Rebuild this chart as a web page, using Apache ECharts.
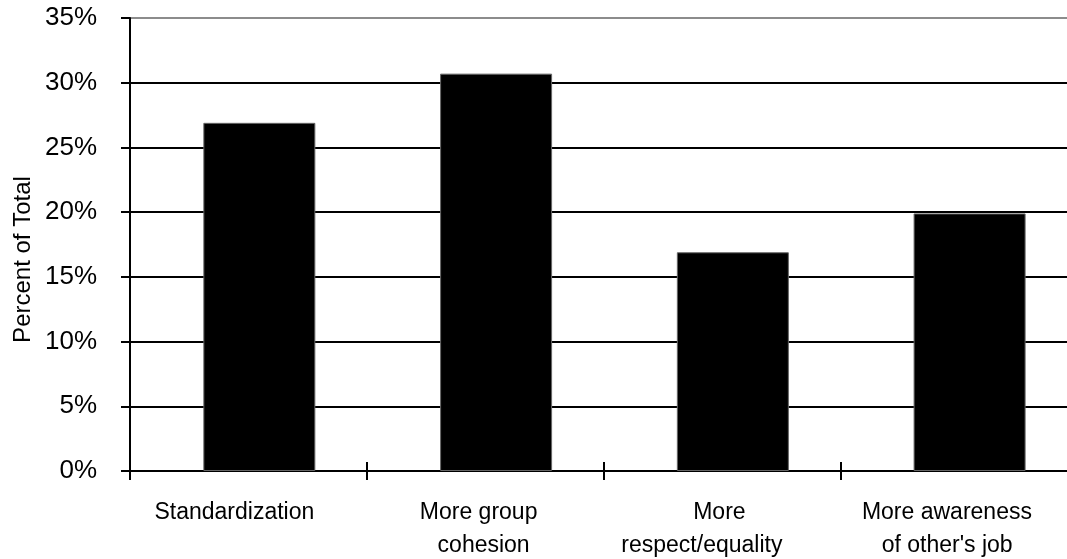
<!DOCTYPE html>
<html>
<head>
<meta charset="utf-8">
<script src="https://cdn.jsdelivr.net/npm/echarts@6/dist/echarts.min.js"></script>
<style>
html,body{margin:0;padding:0;background:#fff;overflow:hidden;}
#chart{width:1067px;height:559px;}
</style>
</head>
<body>
<div id="chart"></div>
<script>
const categories = ['Standardization', 'More group\ncohesion', 'More\nrespect/equality', 'More awareness\nof other\'s job'];
const percentValues = [26.9, 30.7, 16.9, 19.9];
const yTicks = [0, 5, 10, 15, 20, 25, 30, 35];
const yTitle = 'Percent of Total';

// layout: horizontal shift (px) of each label line relative to its category centre
const lineShift = [[-14], [-6.5, -1.5], [-2.5, -20], [-11.7, -11.5]];

const FONT = '"Liberation Sans", Arial, sans-serif';
const chart = echarts.init(document.getElementById('chart'), null, {renderer: 'canvas'});
const splitColors = yTicks.map((t, i) => i === yTicks.length - 1 ? '#8c8c8c' : '#000');

const rich = {};
lineShift.forEach((shifts, ci) => {
  shifts.forEach((d, li) => {
    const L = d > 0 ? 2 * d : 0;
    const R = d < 0 ? -2 * d : 0;
    rich['c' + ci + 'l' + li] = {
      fontFamily: FONT, fontSize: 23, lineHeight: 33, color: '#000',
      padding: [0, R, 0, L]
    };
  });
});

chart.setOption({
  animation: false,
  backgroundColor: '#fff',
  grid: {left: 130, width: 947, top: 18, height: 453, containLabel: false, outerBoundsMode: 'none'},
  xAxis: [{
    type: 'category',
    data: categories,
    position: 'bottom',
    axisLine: {show: true, lineStyle: {color: '#000', width: 2}},
    axisTick: {show: true, length: 9, lineStyle: {color: '#000', width: 2}},
    axisLabel: {
      interval: 0, margin: 25, color: '#000', fontFamily: FONT, fontSize: 23,
      lineHeight: 33,
      formatter: (value, index) => value.split('\n').map((line, li) => '{c' + index + 'l' + li + '|' + line + '}').join('\n'),
      rich: rich
    },
    splitLine: {show: false}
  }, {
    type: 'category',
    data: categories,
    position: 'bottom',
    axisLine: {show: false},
    axisTick: {show: true, inside: true, length: 9, lineStyle: {color: '#000', width: 2}},
    axisLabel: {show: false},
    splitLine: {show: false}
  }],
  yAxis: {
    type: 'value',
    min: 0, max: 35, interval: 5,
    axisLine: {show: true, lineStyle: {color: '#000', width: 2}},
    axisTick: {show: true, length: 9, lineStyle: {color: '#000', width: 2}},
    axisLabel: {
      margin: 33, color: '#000', fontFamily: FONT, fontSize: 26,
      formatter: v => v + '%'
    },
    splitLine: {show: true, lineStyle: {color: splitColors, width: 2}}
  },
  graphic: [{
    type: 'text',
    x: 23.5, y: 259.5,
    rotation: Math.PI / 2,
    style: {
      text: yTitle, fill: '#000', font: '24px ' + FONT,
      textAlign: 'center', textVerticalAlign: 'middle'
    }
  }],
  series: [{
    type: 'bar',
    data: percentValues.map(() => '-'),
    barWidth: 112,
    barGap: '-80.4%',
    silent: true
  }, {
    type: 'bar',
    data: percentValues,
    barWidth: 112,
    barGap: '-80.4%',
    itemStyle: {color: '#000', borderColor: '#666', borderWidth: 1},
    z: 3
  }]
});
</script>
</body>
</html>
